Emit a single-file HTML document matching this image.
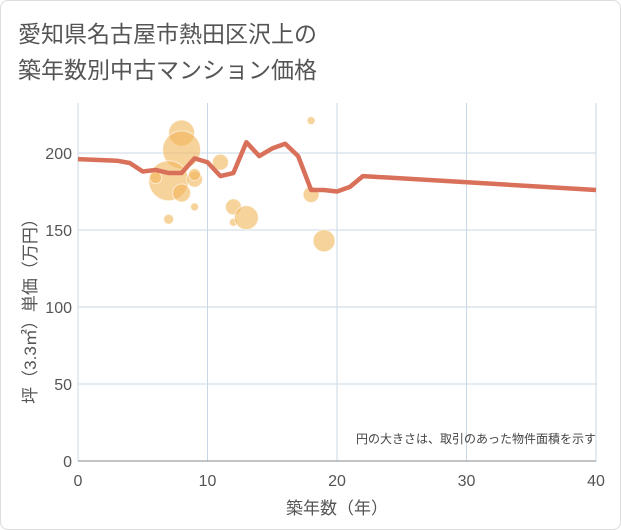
<!DOCTYPE html>
<html><head><meta charset="utf-8"><style>
body{margin:0;background:#fff;font-family:"Liberation Sans","Noto Sans CJK JP",sans-serif;}
.card{position:absolute;left:0;top:0;width:619px;height:528px;border:1px solid #ddd;border-radius:8px;background:#fff;}
</style></head><body>
<div class="card"></div>
<svg width="621" height="530" style="position:absolute;left:0;top:0" id="chart">
<text x="18" y="42" font-size="23" fill="#555">愛知県名古屋市熱田区沢上の</text>
<text x="18" y="78" font-size="23" fill="#555">築年数別中古マンション価格</text>
<g id="grid"></g><g id="bubbles"></g><g id="line"></g><g id="axes"></g>
<text x="596" y="443" font-size="12" fill="#444" text-anchor="end">円の大きさは、取引のあった物件面積を示す</text>
<text x="337" y="514" font-size="17" fill="#555" text-anchor="middle">築年数（年）</text>
<text transform="translate(36,307) rotate(-90)" font-size="17" fill="#555" text-anchor="middle">坪（3.3㎡）単価（万円）</text>
</svg>
<script>
const xTicks=[0,10,20,30,40];
const yTicks=[0,50,100,150,200];
const lineYears=[0,3,4,5,6,7,8,9,10,11,12,13,14,15,16,17,18,19,20,21,22,40];
const linePrices=[196,195,193.5,188,189,187,187,196.5,194,185,187,207,198,203,206,198,176,176,175,178,185,176];
const bubbleYears=[8,8,7,6,8,9,9,9,7,11,12,12,13,18,18,19];
const bubblePrices=[213,202,182,184,174,183,186,165,157,194,165,155,158,221,173,143];
const bubbleSizes=[13,19,20,6,9,8,6,4,5,8,8,4,12,4,8,11];
const X=v=>78+v*12.95, Y=v=>461-v*1.54;
const NS="http://www.w3.org/2000/svg";
function mk(t,a,p){const e=document.createElementNS(NS,t);for(const k in a)e.setAttribute(k,a[k]);p.appendChild(e);return e;}
const grid=document.getElementById('grid'),axes=document.getElementById('axes');
xTicks.forEach(v=>{const l=mk('line',{x1:X(v),x2:X(v),y1:103,y2:461,stroke:'#c9d8e6','stroke-width':1},grid);


const t=mk('text',{x:X(v),y:486,'font-size':16,fill:'#555','text-anchor':'middle'},axes);t.textContent=v;

});
yTicks.forEach(v=>{const l=mk('line',{x1:78,x2:596,y1:Y(v),y2:Y(v),stroke:'#c9d8e6','stroke-width':1},grid);


const t=mk('text',{x:72,y:Y(v)+6,'font-size':16,fill:'#555','text-anchor':'end'},axes);t.textContent=v;

});
const ax=mk('line',{x1:78,x2:596,y1:461,y2:461,stroke:'#888','stroke-width':1},axes);


const bg=document.getElementById('bubbles');
bubbleYears.forEach((v,i)=>{const c=mk('circle',{cx:X(v),cy:Y(bubblePrices[i]),r:bubbleSizes[i],fill:'#f2b55a','fill-opacity':0.6,stroke:'#fff','stroke-opacity':0.6},bg);

});
const p=mk('polyline',{points:lineYears.map((v,i)=>X(v)+','+Y(linePrices[i])).join(' '),fill:'none',stroke:'#d9705a','stroke-width':4.5,'stroke-linejoin':'round'},document.getElementById('line'));


</script>
</body></html>
